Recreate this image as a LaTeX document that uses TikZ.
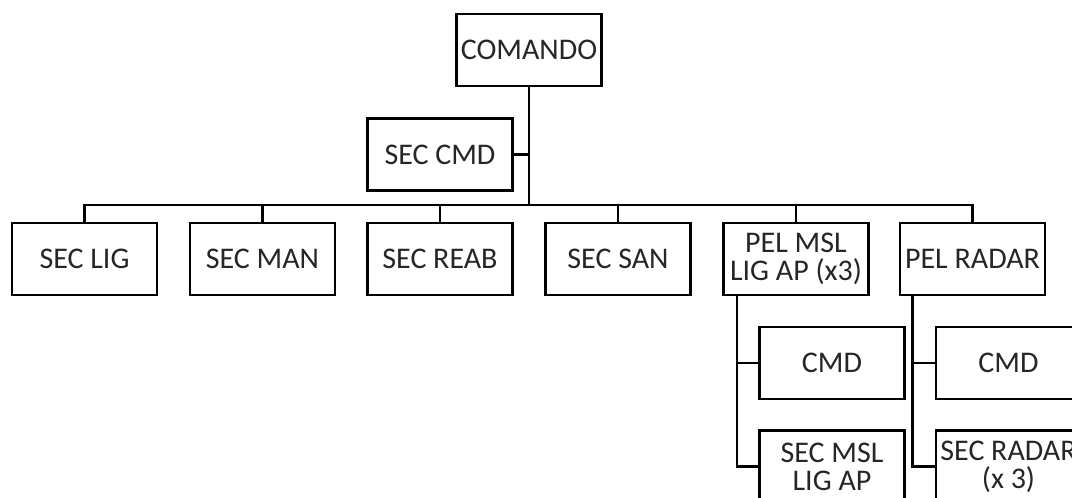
\documentclass[tikz,border=0pt]{standalone}
\usepackage{fontspec}
\setmainfont{Carlito}
\usetikzlibrary{calc}
\begin{document}
\begin{tikzpicture}[x=0.75pt,y=-0.75pt,
  orgbox/.style={draw=black, line width=1.9pt, fill=white,
    minimum width=109pt, minimum height=54pt, inner sep=0pt,
    align=center, text=black!85,
    font=\fontsize{22.5pt}{21pt}\selectfont},
  link/.style={draw=black, line width=1.9pt}]
\useasboundingbox (0,0) rectangle (1072,498);
\clip (0,0) rectangle (1072,498);

% top of the hierarchy
\node[orgbox] (comando) at (529,50) {COMANDO};
\node[orgbox] (seccmd) at (440,154.5) {SEC CMD};
\coordinate (hub) at (529,205);

% first level sections
\node[orgbox] (lig)   at (84.5,259)  {SEC LIG};
\node[orgbox] (man)   at (262.5,259) {SEC MAN};
\node[orgbox] (reab)  at (440,259)   {SEC REAB};
\node[orgbox] (san)   at (618,259)   {SEC SAN};
\node[orgbox] (msl)   at (796,259)   {PEL MSL\\LIG AP (x3)};
\node[orgbox] (radar) at (972.5,259) {PEL RADAR};

% platoon sub-units
\node[orgbox] (mslcmd)   at (832,363)    {CMD};
\node[orgbox] (mslsec)   at (832,466.5)  {SEC MSL\\LIG AP};
\node[orgbox] (radarcmd) at (1008.5,363) {CMD};
\node[orgbox] (radarsec) at (1008.5,466.5) {SEC RADAR\\(x 3)};

% connectors
\draw[link] (comando.south) -- (hub);
\draw[link] (seccmd.east) -- (seccmd.east -| hub);
\draw[link] (lig.north) -- (lig.north |- hub) -- (radar.north |- hub) -- (radar.north);
\foreach \n in {man,reab,san,msl}
  \draw[link] (\n.north) -- (\n.north |- hub);

\coordinate (mslroot) at ($(msl.south west)+(15,0)$);
\coordinate (radarroot) at ($(radar.south west)+(14,0)$);
\draw[link] (mslroot) |- (mslsec.west);
\draw[link] (mslcmd.west) -- (mslcmd.west -| mslroot);
\draw[link] (radarroot) |- (radarsec.west);
\draw[link] (radarcmd.west) -- (radarcmd.west -| radarroot);
\end{tikzpicture}
\end{document}
